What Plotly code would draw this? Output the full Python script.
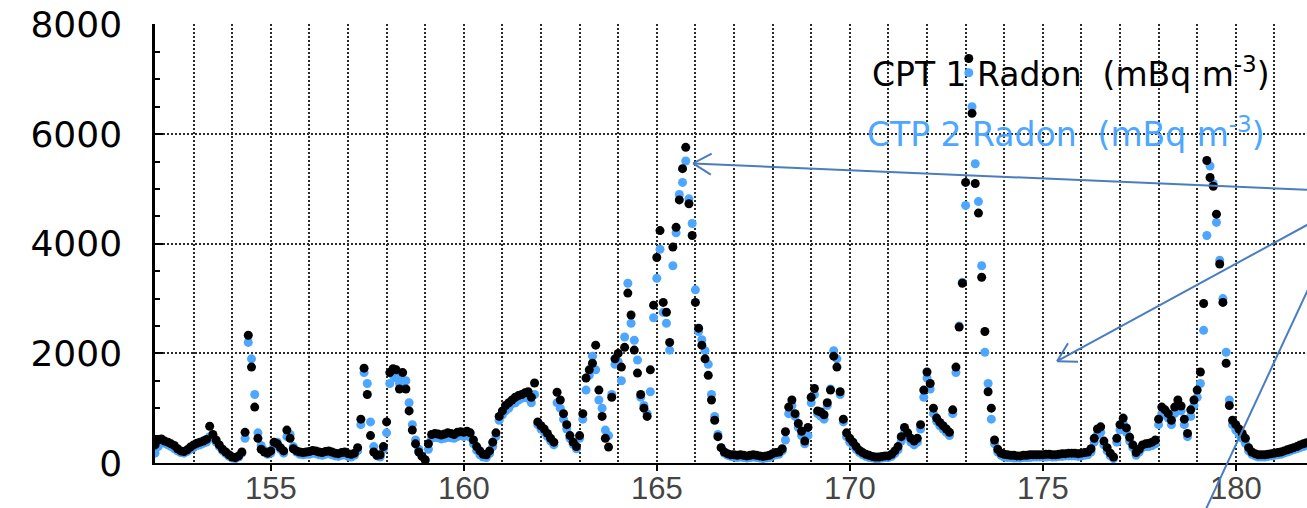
import math
import numpy as np
import plotly.graph_objects as go

# Two-hourly radon activity (mBq m^-3), day-of-year 152 .. 181, 12 readings per day
START_DAY = 152
SAMPLES_PER_DAY = 12

cpt1_radon = [
    330, 420, 440, 400, 380, 350, 320, 260, 220, 210, 240, 290,          # 152
    330, 360, 380, 400, 430, 670, 520, 420, 330, 250, 200, 150,          # 153
    110, 100, 130, 200, 560, 2330, 1750, 1020, 450, 250, 200, 180,       # 154
    220, 380, 350, 280, 220, 600, 450, 260, 220, 200, 190, 200,          # 155
    210, 230, 220, 200, 190, 210, 220, 200, 180, 170, 190, 200,          # 156
    170, 160, 180, 280, 800, 1730, 1250, 500, 200, 140, 150, 300,        # 157
    750, 1650, 1720, 1700, 1350, 1650, 1350, 950, 600, 350, 200, 120,    # 158
    60, 350, 520, 540, 530, 510, 530, 550, 540, 520, 560, 570,           # 159
    560, 580, 550, 420, 300, 220, 160, 150, 220, 380, 550, 850,          # 160
    950, 1050, 1100, 1150, 1200, 1230, 1250, 1280, 1300, 1200, 1460, 750,  # 161
    680, 620, 540, 450, 380, 1290, 1150, 900, 700, 500, 380, 300,        # 162
    500, 900, 1550, 1700, 1820, 2150, 1330, 850, 450, 290, 1200, 1900,   # 163
    2000, 1750, 2110, 3100, 2700, 2060, 1640, 1250, 1000, 850, 1700, 2880,  # 164
    3750, 4240, 2930, 2750, 2200, 3940, 4300, 4800, 5370, 5760, 4730, 4150,  # 165
    2930, 2460, 2150, 1900, 1600, 1150, 780, 480, 280, 200, 170, 150,    # 166
    150, 140, 150, 140, 130, 140, 150, 140, 130, 120, 130, 140,          # 167
    170, 190, 200, 260, 570, 1020, 1150, 900, 720, 580, 400, 650,        # 168
    1200, 1360, 950, 930, 880, 1100, 1330, 1950, 1750, 1300, 800, 550,   # 169
    450, 380, 300, 230, 190, 160, 140, 120, 110, 110, 120, 130,          # 170
    130, 160, 220, 300, 480, 650, 550, 450, 400, 450, 700, 1330,         # 171
    1660, 1450, 1000, 820, 740, 680, 620, 560, 970, 1750, 2480, 3280,    # 172
    5120, 7380, 6380, 5100, 4560, 3390, 2400, 1300, 1000, 420, 250, 180,  # 173
    160, 150, 140, 140, 130, 130, 140, 140, 150, 150, 150, 150,          # 174
    150, 160, 160, 150, 150, 160, 170, 170, 180, 180, 180, 170,          # 175
    180, 190, 200, 260, 450, 620, 660, 400, 280, 180, 110, 450,          # 176
    700, 820, 640, 470, 330, 190, 250, 330, 350, 360, 380, 420,          # 177
    800, 1020, 970, 900, 780, 1020, 1150, 1040, 800, 540, 970, 1150,     # 178
    1330, 1660, 2910, 5520, 5210, 5050, 4540, 3630, 2930, 1820, 1050, 780,  # 179
    700, 620, 540, 450, 280, 200, 170, 150, 150, 150, 160, 170,          # 180
    180, 190, 200, 220, 240, 260, 280, 300, 330, 350, 370, 380,          # 181
]

ctp2_radon = [
    180, 300, 380, 360, 330, 300, 260, 220, 190, 180, 210, 250,          # 152
    280, 320, 330, 360, 380, 480, 450, 380, 300, 220, 170, 120,          # 153
    90, 80, 110, 180, 450, 2200, 1900, 1250, 550, 320, 230, 160,         # 154
    180, 320, 380, 250, 180, 480, 520, 300, 200, 160, 150, 160,          # 155
    160, 180, 170, 150, 140, 160, 170, 150, 130, 120, 140, 150,          # 156
    120, 110, 140, 220, 700, 1650, 1450, 750, 300, 130, 110, 250,        # 157
    550, 1450, 1600, 1550, 1450, 1500, 1500, 1100, 700, 420, 250, 130,   # 158
    40, 250, 450, 470, 460, 440, 450, 470, 460, 450, 480, 500,           # 159
    480, 500, 470, 350, 230, 150, 110, 100, 170, 300, 480, 780,          # 160
    880, 950, 1000, 1080, 1100, 1150, 1180, 1200, 1180, 1100, 1250, 700,  # 161
    620, 560, 480, 400, 330, 1100, 1000, 800, 620, 450, 340, 260,        # 162
    450, 800, 1330, 1600, 1950, 1700, 1150, 1000, 600, 500, 1250, 1800,  # 163
    1850, 1500, 2300, 3280, 2550, 2240, 1880, 1200, 1050, 900, 1300, 2650,  # 164
    3370, 3900, 2750, 2550, 2060, 3600, 4200, 4900, 5120, 5510, 4820, 4370,  # 165
    3160, 2400, 2250, 2050, 1800, 1250, 850, 520, 280, 180, 140, 120,    # 166
    110, 100, 110, 100, 90, 100, 110, 100, 90, 80, 90, 100,              # 167
    130, 150, 160, 220, 420, 900, 1050, 850, 650, 500, 350, 500,         # 168
    1100, 1250, 900, 850, 800, 1050, 1350, 2050, 1900, 1250, 750, 480,   # 169
    380, 320, 250, 190, 150, 120, 100, 90, 80, 80, 90, 100,              # 170
    100, 120, 170, 240, 400, 560, 480, 380, 330, 380, 620, 1200,         # 171
    1550, 1350, 900, 760, 680, 620, 560, 500, 900, 1650, 2500, 3300,     # 172
    4700, 7120, 6500, 5460, 4770, 3600, 2020, 1450, 800, 350, 200, 140,  # 173
    110, 100, 100, 90, 90, 90, 100, 100, 100, 110, 110, 110,             # 174
    110, 110, 120, 110, 110, 120, 120, 130, 130, 130, 130, 120,          # 175
    130, 140, 150, 200, 380, 520, 560, 330, 220, 130, 80, 380,           # 176
    600, 720, 560, 400, 280, 140, 200, 280, 300, 300, 320, 350,          # 177
    700, 900, 880, 820, 700, 900, 1000, 950, 700, 480, 850, 1050,        # 178
    1200, 1450, 2420, 4150, 5420, 5100, 4390, 3700, 3000, 2020, 1150, 700,  # 179
    600, 520, 450, 360, 220, 160, 130, 110, 110, 110, 120, 130,          # 180
    140, 150, 160, 180, 200, 220, 240, 260, 280, 300, 320, 330,          # 181
]

x_ticks = [155, 160, 165, 170, 175, 180]
y_ticks = [0, 2000, 4000, 6000, 8000]

# callout targets (day, mBq m^-3) and the pixel offset of each arrow's tail
callouts = [
    ((165.94, 5466), (650, 28)),
    ((175.37, 1858), (290, -158)),
]

day_of_year = START_DAY + np.arange(len(cpt1_radon)) / SAMPLES_PER_DAY

BLACK = "#000000"
SKY = "#4DA6FF"
ARROW = "#4A7DBF"
GRID = "#2a2a2a"
GRID_DASH = "2px,2px"

# figure geometry
FIG_W, FIG_H = 1307, 508
M_L, M_R, M_T, M_B = 155, 0, 24, 45
X_RANGE = [152, 181.845]
Y_RANGE = [0, 8010]
PLOT_W = FIG_W - M_L - M_R
PLOT_H = FIG_H - M_T - M_B


def data_to_px(x, y):
    px = M_L + (x - X_RANGE[0]) / (X_RANGE[1] - X_RANGE[0]) * PLOT_W
    py = M_T + PLOT_H - (y - Y_RANGE[0]) / (Y_RANGE[1] - Y_RANGE[0]) * PLOT_H
    return px, py


def px_to_paper(px, py):
    return (px - M_L) / PLOT_W, (M_T + PLOT_H - py) / PLOT_H


def line_px(fig, p0, p1):
    a = px_to_paper(*p0)
    b = px_to_paper(*p1)
    fig.add_shape(type="line", xref="paper", yref="paper",
                  x0=a[0], y0=a[1], x1=b[0], y1=b[1],
                  line=dict(color=ARROW, width=2))


fig = go.Figure()
fig.add_trace(go.Scatter(
    x=day_of_year, y=ctp2_radon, mode="markers", name="CTP 2 Radon",
    marker=dict(color=SKY, size=9, symbol="circle", line=dict(width=0)),
))
fig.add_trace(go.Scatter(
    x=day_of_year, y=cpt1_radon, mode="markers", name="CPT 1 Radon",
    marker=dict(color=BLACK, size=9, symbol="circle", line=dict(width=0)),
))

fig.update_xaxes(
    range=X_RANGE, tickvals=x_ticks, ticktext=[str(t) for t in x_ticks],
    ticks="outside", ticklen=6, tickwidth=2, tickcolor=BLACK,
    showline=True, linecolor=BLACK, linewidth=2,
    showgrid=True, gridcolor=GRID, gridwidth=1.5, griddash=GRID_DASH,
    minor=dict(dtick=1, tick0=152, showgrid=True, gridcolor=GRID,
               gridwidth=1.5, griddash=GRID_DASH),
    zeroline=False, automargin=False, ticklabelstandoff=-9,
    tickfont=dict(family="Liberation Sans", size=31, color="#444444"),
)
fig.update_yaxes(
    range=Y_RANGE, tickvals=y_ticks, ticktext=[str(t) for t in y_ticks],
    ticks="inside", ticklen=8, tickwidth=2, tickcolor=BLACK,
    showline=True, linecolor=BLACK, linewidth=2.5,
    showgrid=True, gridcolor=GRID, gridwidth=2, griddash=GRID_DASH,
    minor=dict(dtick=500, tick0=0, ticks="inside", ticklen=5, tickwidth=1.5,
               tickcolor=BLACK, showgrid=False),
    zeroline=False, automargin=False, ticklabelstandoff=23,
    tickfont=dict(family="DejaVu Sans", size=36, color=BLACK),
)

# series labels
fig.add_annotation(
    xref="paper", yref="paper", x=px_to_paper(1071, 72)[0], y=px_to_paper(1071, 72)[1],
    xanchor="center", yanchor="middle", showarrow=False,
    text="CPT 1 Radon  (mBq m<sup>-3</sup>)",
    font=dict(family="DejaVu Sans", size=33, color=BLACK),
)
fig.add_annotation(
    xref="paper", yref="paper", x=px_to_paper(1066, 132)[0], y=px_to_paper(1066, 132)[1],
    xanchor="center", yanchor="middle", showarrow=False,
    text="CTP 2 Radon  (mBq m<sup>-3</sup>)",
    font=dict(family="DejaVu Sans", size=33, color=SKY),
)

# callout arrows with open V heads
ARM_LEN, ARM_ANGLE = 21, math.radians(30)
for (tx, ty), (dx, dy) in callouts:
    tip = data_to_px(tx, ty)
    tail = (tip[0] + dx, tip[1] + dy)
    line_px(fig, tip, tail)
    ang = math.atan2(dy, dx)
    for s in (-1, 1):
        a = ang + s * ARM_ANGLE
        line_px(fig, tip, (tip[0] + ARM_LEN * math.cos(a), tip[1] + ARM_LEN * math.sin(a)))

# third callout leaves the frame below the axis
line_px(fig, (1317, 270), (1191.6, 540))

fig.update_layout(
    width=FIG_W, height=FIG_H,
    margin=dict(l=M_L, r=M_R, t=M_T, b=M_B),
    paper_bgcolor="white", plot_bgcolor="white",
    showlegend=False,
)

fig.write_html("out.html")
